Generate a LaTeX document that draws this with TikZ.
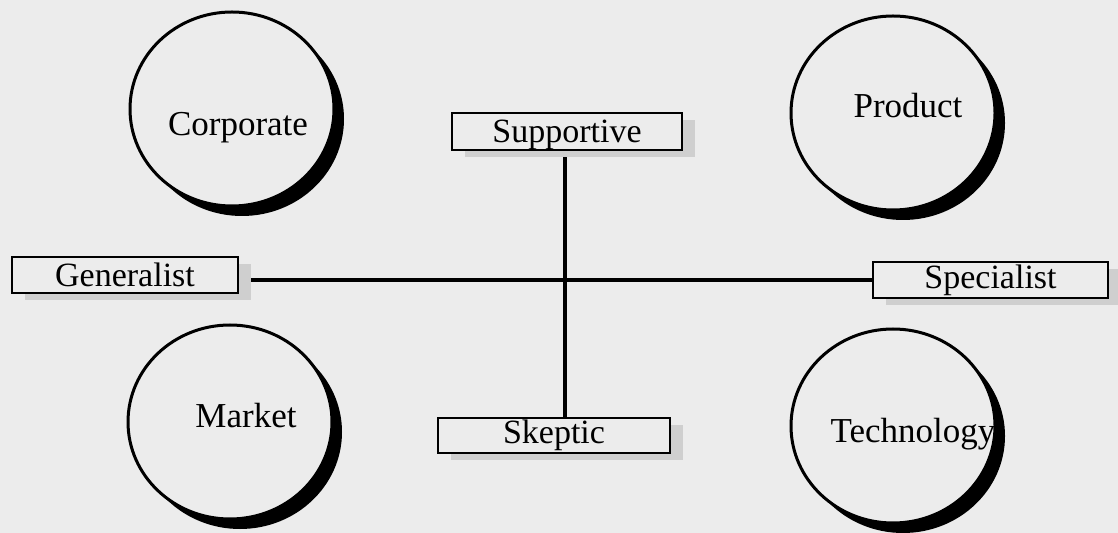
\documentclass[tikz,border=0pt]{standalone}
\usepackage{fontspec}
\setmainfont{Liberation Serif}
\usetikzlibrary{shadows,shapes.geometric}
\pgfdeclarelayer{bglayer}
\pgfsetlayers{bglayer,main}
\definecolor{paper}{RGB}{236,236,236}
\begin{document}
\begin{tikzpicture}[x=0.5pt,y=-0.5pt,
  disc/.style={ellipse, draw, line width=1.5pt, fill=paper,
    minimum width=102pt, minimum height=97pt, inner sep=0pt,
    drop shadow={shadow xshift=5pt, shadow yshift=-5pt, fill=black, opacity=1}},
  lbl/.style={font=\fontsize{17.5}{21}\selectfont, inner sep=0pt},
  tag/.style={draw, line width=1.4pt, fill=paper, inner sep=0pt,
    font=\fontsize{17}{20}\selectfont,
    drop shadow={shadow xshift=6.5pt, shadow yshift=-3.5pt, fill=gray!38, opacity=1}},
  link/.style={line width=1.6pt}]
\useasboundingbox (0,0) rectangle (1118,533);
\begin{pgfonlayer}{bglayer}
  \fill[paper] (0,0) rectangle (1118,533);
\end{pgfonlayer}

% circles
\node[disc, label={[lbl, xshift=3pt, yshift=-9.5pt]center:Corporate}] (corp) at (232,109) {};
\node[disc, label={[lbl, xshift=7.5pt, yshift=3.5pt]center:Product}] (prod) at (893,113) {};
\node[disc, label={[lbl, xshift=8pt, yshift=3pt]center:Market}] (mark) at (230,422) {};
\node[disc, label={[lbl, xshift=10pt, yshift=-4pt]center:Technology}] (tech) at (893,426) {};

% boxes
\node[tag, minimum width=115pt, minimum height=18.5pt, text height=13.5pt, text depth=2pt] (sup) at (567,131.5) {Supportive};
\node[tag, minimum width=113pt, minimum height=18pt] (gen) at (125,275) {Generalist};
\node[tag, minimum width=117.5pt, minimum height=18pt] (spec) at (990.5,280) {Specialist};
\node[tag, minimum width=116pt, minimum height=17.5pt] (skep) at (554,435.5) {Skeptic};

% axes
\coordinate (cross) at (565,280);
\begin{pgfonlayer}{bglayer}
  \draw[link] (sup.south -| cross) -- (skep.north -| cross);
  \draw[link] (gen.east |- cross) -- (spec.west |- cross);
\end{pgfonlayer}
\end{tikzpicture}
\end{document}
